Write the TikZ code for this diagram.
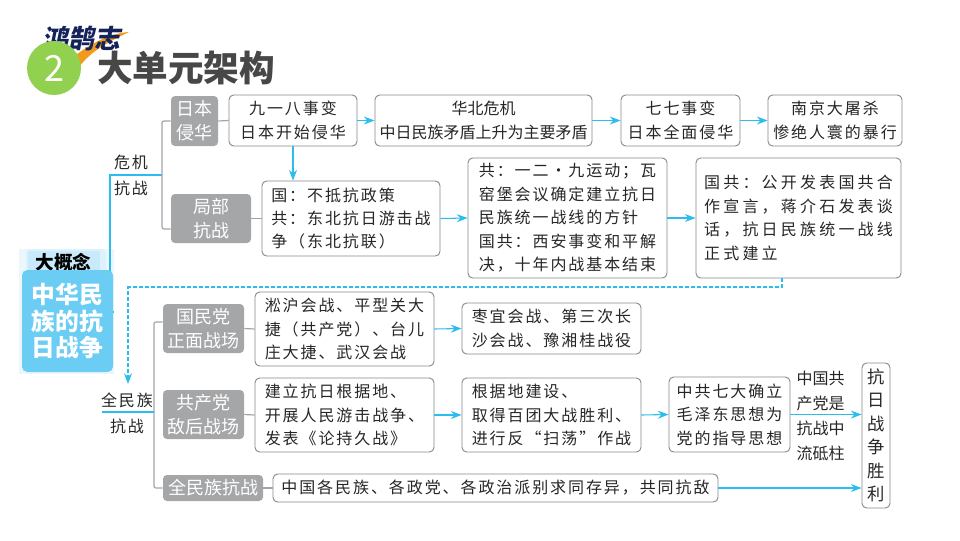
\documentclass[tikz,border=0pt]{standalone}
\usepackage{fontspec}
\setmainfont{Noto Sans CJK SC}
\newfontfamily\bodyfont[LetterSpace=12]{Noto Sans CJK SC}
\newfontfamily\widefont[LetterSpace=20]{Noto Sans CJK SC}
\newfontfamily\logofont[FakeSlant=0.2]{Noto Sans CJK SC}
\usetikzlibrary{arrows.meta}
\definecolor{linegrey}{HTML}{A3A4A6}
\definecolor{boxgrey}{HTML}{A5A6A8}
\definecolor{edgegrey}{HTML}{85878A}
\definecolor{arrowblue}{HTML}{2BBDEE}
\definecolor{conceptblue}{HTML}{6CCDF4}
\definecolor{tabblue}{HTML}{C8EAFA}
\definecolor{tabpale}{HTML}{DDF2FC}
\definecolor{paleblue}{HTML}{EBF7FD}
\definecolor{textdark}{HTML}{262626}
\definecolor{logonavy}{HTML}{14235A}
\definecolor{logoorange}{HTML}{F39A1D}
\definecolor{numgreen}{HTML}{92D050}

\begin{document}
\begin{tikzpicture}[x=0.75pt, y=-0.75pt]
	\tikzstyle{greybox}=[fill=boxgrey, rounded corners=3pt, text=white, font=\fontsize{13.5}{18}\selectfont, align=center, inner sep=0pt]
	\tikzstyle{textbox}=[draw=edgegrey, line width=0.7pt, rounded corners=3.5pt, text=textdark, font=\bodyfont\fontsize{12}{17.6}\selectfont, align=left, inner sep=0pt]
	\tikzstyle{plaintext}=[text=textdark, font=\bodyfont\fontsize{12}{17.6}\selectfont, inner sep=0pt]
	\tikzstyle{blueline}=[draw=arrowblue, line width=0.8pt]
	\tikzstyle{bluearrow}=[blueline, -{Stealth[length=8pt, width=6pt]}]
	\tikzstyle{greyline}=[draw=linegrey, line width=0.9pt, rounded corners=1.5pt]
	\useasboundingbox (0, 0) rectangle (960, 540);

	// logo
	\fill[logoorange] (129, 32) .. controls (112, 33) and (92, 42) .. (72, 58) -- (80, 66) .. controls (90, 52) and (108, 42) .. (129, 32);
	\node[inner sep=0pt, text=logonavy, font=\logofont\bfseries\fontsize{19.5}{20}\selectfont](Logo) at (81, 38) {鸿鹄志};

	// title
	\node[circle, fill=numgreen, minimum size=40.5pt, inner sep=0pt, text=white, font=\fontsize{27}{28}\selectfont](Num) at (54, 68) {2};
	\node[inner sep=0pt, text=black!72, font=\bfseries\fontsize{26.7}{30}\selectfont](Title) at (186, 68) {大单元架构};

	// big concept
	\coordinate (Concept_Out) at (114, 312);
	\coordinate (Blue_Turn) at (110, 175);
	\coordinate (Trunk_Up) at (162, 175);
	\node[fill=paleblue, minimum width=71.25pt, minimum height=93.75pt, inner sep=0pt](Concept_Bg) at (66.5, 311.5) {};
	\draw[blueline] (Concept_Out) -| (Blue_Turn) -- (Trunk_Up);
	\node[fill=tabpale, rounded corners=3pt, minimum width=60pt, minimum height=18pt, inner sep=0pt](Concept_Tab_Back) at (66, 261) {};
	\node[fill=tabblue, minimum width=54pt, minimum height=16.5pt, inner sep=0pt, text=black, font=\bfseries\fontsize{14}{16}\selectfont](Concept_Tab) at (63.5, 262) {大概念};
	\node[fill=conceptblue, rounded corners=4pt, minimum width=68.25pt, minimum height=76.5pt, inner sep=0pt, align=center, text=white, font=\bfseries\fontsize{17.8}{20}\selectfont](Concept_Main) at (67.5, 321) {中华民\\族的抗\\日战争};

	// upper labels
	\node[plaintext](Wei_Ji) at (131, 162) {危机};
	\node[plaintext](Kang_Zhan_A) at (131, 188) {抗战};

	// upper grey boxes
	\node[greybox, minimum width=35.25pt, minimum height=37.5pt](Ri_Ben) at (194.5, 121) {日本\\侵华};
	\node[greybox, minimum width=60pt, minimum height=36.75pt](Ju_Bu) at (211, 218.5) {局部\\抗战};

	// upper text boxes
	\node[textbox, align=center, minimum width=96pt, minimum height=38.25pt](Jiu_Yi_Ba) at (293, 120.5) {九一八事变\\日本开始侵华};
	\node[textbox, align=center, font=\fontsize{12}{17.6}\selectfont, minimum width=162.75pt, minimum height=38.25pt](Hua_Bei) at (483.5, 120.5) {华北危机\\中日民族矛盾上升为主要矛盾};
	\node[textbox, align=center, minimum width=89.25pt, minimum height=38.25pt](Qi_Qi) at (680.5, 120.5) {七七事变\\日本全面侵华};
	\node[textbox, align=center, minimum width=100.5pt, minimum height=38.25pt](Nan_Jing) at (835, 120.5) {南京大屠杀\\惨绝人寰的暴行};
	\node[textbox, minimum width=133.5pt, minimum height=56.25pt](Guo_Bu) at (351, 218.5) {国：不抵抗政策\\共：东北抗日游击战\\争（东北抗联）};
	\node[textbox, minimum width=149.25pt, minimum height=90pt](Gong_Yun) at (567.5, 218) {共：一二·九运动；瓦\\窑堡会议确定建立抗日\\民族统一战线的方针\\国共：西安事变和平解\\决，十年内战基本结束};
	\node[textbox, font=\widefont\fontsize{12}{17.6}\selectfont, minimum width=153.75pt, minimum height=90pt](Guo_Gong) at (798.5, 218) {国共：公开发表国共合\\作宣言，蒋介石发表谈\\话，抗日民族统一战线\\正式建立};

	// lower labels
	\coordinate (Quan_Left) at (102, 412);
	\coordinate (Trunk_Low) at (154, 412);
	\node[plaintext](Quan_Min) at (127, 400) {全民族};
	\node[plaintext](Kang_Zhan_B) at (127, 426) {抗战};

	// lower grey boxes
	\node[greybox, minimum width=60.75pt, minimum height=36.75pt](Zheng_Mian) at (203.5, 328.5) {国民党\\正面战场};
	\node[greybox, minimum width=60.75pt, minimum height=36.75pt](Di_Hou) at (203.5, 414.5) {共产党\\敌后战场};
	\node[greybox, minimum width=75pt, minimum height=19.5pt](Quan_Kang) at (213, 488) {全民族抗战};

	// lower text boxes
	\node[textbox, minimum width=134.25pt, minimum height=55.5pt](Song_Hu) at (344.5, 329) {淞沪会战、平型关大\\捷（共产党）、台儿\\庄大捷、武汉会战};
	\node[textbox, minimum width=134.25pt, minimum height=38.25pt](Zao_Yi) at (551.5, 328.5) {枣宜会战、第三次长\\沙会战、豫湘桂战役};
	\node[textbox, minimum width=134.25pt, minimum height=55.5pt](Jian_Li) at (344.5, 415) {建立抗日根据地、\\开展人民游击战争、\\发表《论持久战》};
	\node[textbox, minimum width=134.25pt, minimum height=55.5pt](Gen_Ju) at (551.5, 415) {根据地建设、\\取得百团大战胜利、\\进行反“扫荡”作战};
	\node[textbox, minimum width=90.75pt, minimum height=56.25pt](Zhong_Gong) at (729.5, 414.5) {中共七大确立\\毛泽东思想为\\党的指导思想};
	\node[textbox, minimum width=333.75pt, minimum height=21pt](Ge_Zu) at (495.5, 488) {中国各民族、各政党、各政治派别求同存异，共同抗敌};
	\node[textbox, align=center, minimum width=21pt, minimum height=108.75pt, font=\fontsize{13}{17.6}\selectfont](Sheng_Li) at (876, 435.5) {抗\\日\\战\\争\\胜\\利};
	\node[plaintext, align=left, font=\fontsize{12}{18.75}\selectfont](Liu) at (820.5, 415.5) {中国共\\产党是\\抗战中\\流砥柱};

	// lines
	// grey trunks
	\draw[greyline] (Ri_Ben.west) -| (Trunk_Up) |- ([yshift=-7.9pt]Ju_Bu.west);
	\draw[greyline] ([yshift=4.9pt]Zheng_Mian.west) -| (Trunk_Low) |- (Quan_Kang.west);
	\draw[blueline] (Quan_Left) -- (Trunk_Low);

	// grey stubs
	\draw[greyline] (Ri_Ben.east) -- (Jiu_Yi_Ba.west);
	\draw[greyline] (Ju_Bu.east) -- (Guo_Bu.west);
	\draw[greyline] (Zheng_Mian.east) -- (Song_Hu.west);
	\draw[greyline] (Di_Hou.east) -- (Jian_Li.west);
	\draw[greyline] (Quan_Kang.east) -- (Ge_Zu.west);

	// blue arrows top row
	\draw[bluearrow] (Jiu_Yi_Ba.east) -- (Hua_Bei.west);
	\draw[bluearrow] (Hua_Bei.east) -- (Qi_Qi.west);
	\draw[bluearrow] (Qi_Qi.east) -- (Nan_Jing.west);
	\draw[bluearrow] (Jiu_Yi_Ba.south) -- (Jiu_Yi_Ba.south |- Guo_Bu.north);

	// blue arrows middle row
	\draw[bluearrow] (Guo_Bu.east) -- (Gong_Yun.west);
	\draw[bluearrow] (Gong_Yun.east) -- (Guo_Gong.west);

	// dashed link
	\coordinate (Dash_Turn) at (128, 287);
	\coordinate (Dash_End) at (128, 384);
	\draw[bluearrow, dash pattern=on 3pt off 1.5pt] ([xshift=-12.4pt]Guo_Gong.south) |- (Dash_Turn) -- (Dash_End);

	// blue arrows lower rows
	\draw[bluearrow] (Song_Hu.east) -- (Zao_Yi.west);
	\draw[bluearrow] (Jian_Li.east) -- (Gen_Ju.west);
	\draw[bluearrow] (Gen_Ju.east) -- (Zhong_Gong.west);
	\draw[bluearrow] (Zhong_Gong.east) -- (Zhong_Gong.east -| Sheng_Li.west);
	\draw[bluearrow] (Ge_Zu.east) -- (Ge_Zu.east -| Sheng_Li.west);
\end{tikzpicture}
\end{document}
